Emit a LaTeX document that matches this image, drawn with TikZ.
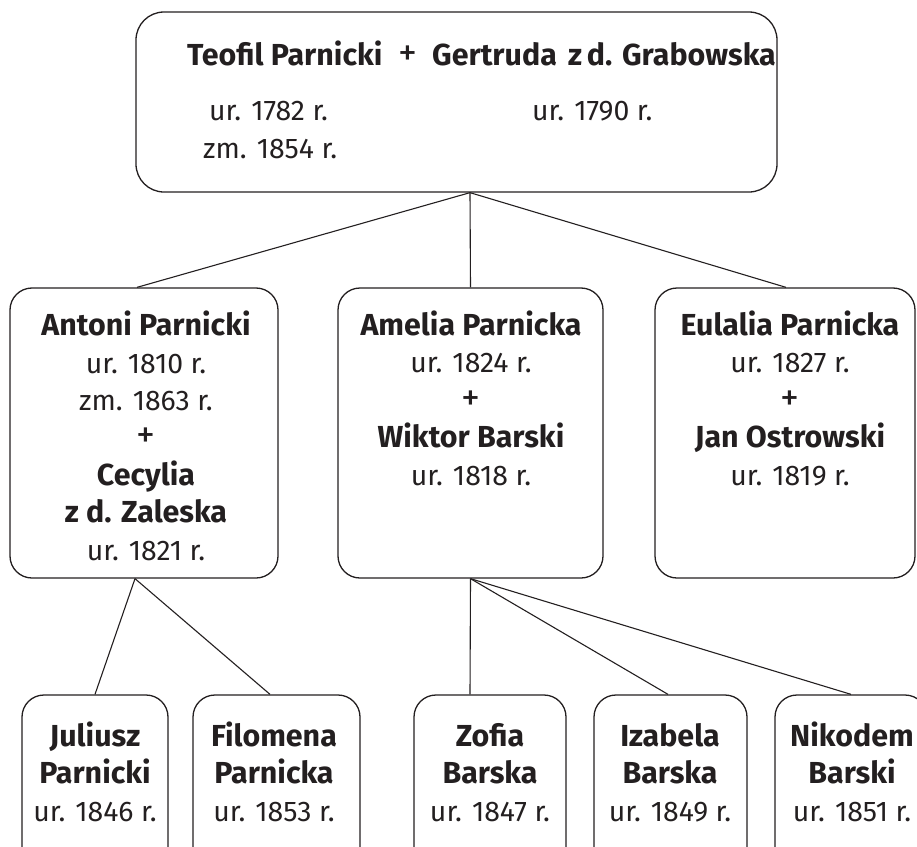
\documentclass[tikz,border=0pt]{standalone}
\usepackage{fontspec}
\setmainfont{Fira Sans}
\definecolor{ink}{HTML}{231F20}
\newcommand{\bn}[1]{{\fontsize{30.5}{37.5}\selectfont\bfseries #1}}
\newcommand{\pl}{{\fontsize{38}{37.5}\selectfont +}}
\begin{document}
\begin{tikzpicture}[x=1bp,y=-1bp,
  box/.style={draw=ink, line width=1.3bp, rounded corners=22bp, inner sep=0pt},
  txt/.style={text=ink, align=center, inner sep=0pt, anchor=base, font=\fontsize{28.5}{37.5}\selectfont},
  ttl/.style={text=ink, inner sep=0pt, font=\fontsize{28.5}{30}\selectfont},
  link/.style={draw=ink, line width=1.1bp}]
\useasboundingbox (0,0) rectangle (917,847);
\clip (0,0) rectangle (917,847);
% boxes
\node[box, rounded corners=28bp, minimum width=641bp, minimum height=180bp] (top) at (456.5,102) {};
\node[box, minimum width=268bp, minimum height=290bp] (antoni) at (144,433) {};
\node[box, minimum width=265bp, minimum height=290bp] (amelia) at (470.5,433) {};
\node[box, minimum width=260bp, minimum height=290bp] (eulalia) at (785,433) {};
\node[box, minimum width=146bp, minimum height=210bp] (juliusz) at (95,800) {};
\node[box, minimum width=167bp, minimum height=210bp] (filomena) at (276.5,800) {};
\node[box, minimum width=152bp, minimum height=210bp] (zofia) at (490,800) {};
\node[box, minimum width=153bp, minimum height=210bp] (izabela) at (670.5,800) {};
\node[box, minimum width=152bp, minimum height=210bp] (nikodem) at (851,800) {};
% top box text
\node[ttl, anchor=base west] (teofil) at (187,65) {\bn{Teofil Parnicki}};
\node[ttl, anchor=base] (plus) at (408,65) {\pl};
\node[ttl, anchor=base west] (gertruda) at (432,65) {\bn{Gertruda}};
\node[ttl, anchor=base east] (zd) at (776,65) {\bn{z\,d. Grabowska}};
\node[ttl, anchor=base west] (t1) at (209,120) {ur. 1782 r.};
\node[ttl, anchor=base west] (t2) at (203,158) {zm. 1854 r.};
\node[ttl, anchor=base west] (t3) at (532,120) {ur. 1790 r.};
% children text (anchor base = last line)
\node[txt] (antonit) at (146,560) {\bn{Antoni Parnicki}\\ur. 1810 r.\\zm. 1863 r.\\\pl\\\bn{Cecylia}\\\bn{z d. Zaleska}\\ur. 1821 r.};
\node[txt] (ameliat) at (471,485) {\bn{Amelia Parnicka}\\ur. 1824 r.\\\pl\\\bn{Wiktor Barski}\\ur. 1818 r.};
\node[txt] (eulaliat) at (790,485) {\bn{Eulalia Parnicka}\\ur. 1827 r.\\\pl\\\bn{Jan Ostrowski}\\ur. 1819 r.};
\node[txt] (juliuszt) at (95,821) {\bn{Juliusz}\\\bn{Parnicki}\\ur. 1846 r.};
\node[txt] (filomenat) at (274,821) {\bn{Filomena}\\\bn{Parnicka}\\ur. 1853 r.};
\node[txt] (zofiat) at (490,821) {\bn{Zofia}\\\bn{Barska}\\ur. 1847 r.};
\node[txt] (izabelat) at (670,821) {\bn{Izabela}\\\bn{Barska}\\ur. 1849 r.};
\node[txt] (nikodemt) at (852,821) {\bn{Nikodem}\\\bn{Barski}\\ur. 1851 r.};
% connectors
\coordinate (apex) at ([xshift=13.5bp]top.south);
\draw[link] (apex) -- ([xshift=-7bp]antoni.north);
\draw[link] (apex) -- (amelia.north);
\draw[link] (apex) -- ([xshift=1bp]eulalia.north);
\draw[link] ([xshift=-9bp]antoni.south) -- (juliusz.north);
\draw[link] ([xshift=-9bp]antoni.south) -- ([xshift=-6.5bp]filomena.north);
\draw[link] (amelia.south) -- ([xshift=-20bp]zofia.north);
\draw[link] (amelia.south) -- ([xshift=-2.5bp]izabela.north);
\draw[link] (amelia.south) -- (nikodem.north);
\end{tikzpicture}
\end{document}
